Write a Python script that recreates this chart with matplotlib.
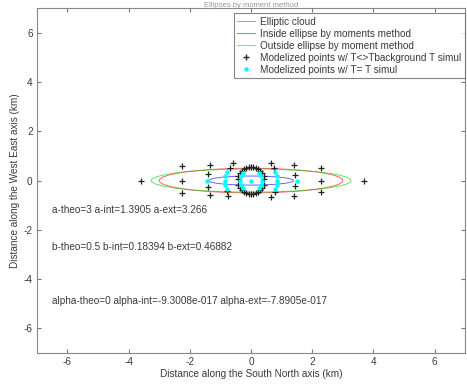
import numpy as np
import matplotlib
matplotlib.use('Agg')
import matplotlib.pyplot as plt
from matplotlib.patches import Ellipse
from matplotlib.lines import Line2D

plt.rcParams['font.family'] = ['Liberation Sans', 'DejaVu Sans']
plt.rcParams['axes.unicode_minus'] = False

# ellipse parameters (theoretical, inside and outside moment estimates)
a_theo, b_theo, alpha_theo = 3, 0.5, 0
a_int, b_int, alpha_int = 1.3905, 0.18394, -9.3008e-017
a_ext, b_ext, alpha_ext = 3.266, 0.46882, -7.8905e-017

# modelized points, T <> Tbackground
pts_bg_x = [-3.6, 3.7,
            -2.25, -2.25, -2.25, 2.3, 2.3, 2.3,
            -1.35, -1.4, -1.4, -1.35, 1.4, 1.45, 1.45, 1.4,
            -0.58, -0.68, -0.8, -0.74, 0.64, 0.76, 0.78, 0.66,
            0.0, 0.08, 0.16, 0.24, 0.31, 0.37, 0.42, 0.44,
            -0.08, -0.16, -0.24, -0.31, -0.37, -0.42, -0.44,
            0.08, 0.16, 0.24, 0.31, 0.37, 0.42,
            -0.08, -0.16, -0.24, -0.31, -0.37, -0.42, 0.0]
pts_bg_y = [0.0, 0.0,
            0.58, 0.0, -0.5, 0.5, 0.0, -0.45,
            0.65, 0.25, -0.25, -0.6, 0.62, 0.24, -0.22, -0.62,
            0.72, 0.52, -0.44, -0.64, 0.72, 0.5, -0.45, -0.66,
            0.56, 0.55, 0.52, 0.47, 0.4, 0.3, 0.18, 0.05,
            0.55, 0.52, 0.47, 0.4, 0.3, 0.18, 0.05,
            -0.55, -0.52, -0.47, -0.4, -0.3, -0.18,
            -0.55, -0.52, -0.47, -0.4, -0.3, -0.18, -0.56]

# modelized points, T = T signal
pts_sig_x = [0.0, -1.45, 1.5,
             -0.78, -0.84, -0.86, -0.84, -0.78, 0.78, 0.84, 0.86, 0.84, 0.78,
             0.36, 0.34, 0.26, -0.26, -0.34, -0.36,
             -0.34, -0.26, 0.26, 0.34]
pts_sig_y = [0.0, 0.0, 0.0,
             0.35, 0.18, 0.0, -0.18, -0.35, 0.35, 0.18, 0.0, -0.18, -0.35,
             0.0, 0.17, 0.3, 0.3, 0.17, 0.0,
             -0.17, -0.3, -0.3, -0.17]


def mfmt(v):
    # %g with a three digit exponent, like matlab's num2str
    s = '%.5g' % v
    if 'e' in s:
        m, e = s.split('e')
        s = '%se%s%03d' % (m, e[0], abs(int(e)))
    return s


fs = 7.2
txtc = '#3a3a3a'

fig = plt.figure(figsize=(4.67, 3.85), dpi=100)
ax = fig.add_axes([0.079, 0.083, 0.917, 0.896])

for a, b, alpha, col in [(a_theo, b_theo, alpha_theo, 'red'),
                         (a_int, b_int, alpha_int, 'blue'),
                         (a_ext, b_ext, alpha_ext, '#00cc00')]:
    ax.add_patch(Ellipse((0, 0), 2 * a, 2 * b, angle=np.degrees(alpha),
                         fill=False, ec=col, lw=0.7, alpha=0.6))

ax.plot(pts_bg_x, pts_bg_y, '+', color='#222222', ms=4, mew=0.9, ls='none')
ax.plot(pts_sig_x, pts_sig_y, '.', color='cyan', ms=4.5, ls='none')

ax.text(-6.5, -1.2, 'a-theo=%s a-int=%s a-ext=%s'
        % (mfmt(a_theo), mfmt(a_int), mfmt(a_ext)),
        fontsize=fs, color=txtc, va='center')
ax.text(-6.5, -2.7, 'b-theo=%s b-int=%s b-ext=%s'
        % (mfmt(b_theo), mfmt(b_int), mfmt(b_ext)),
        fontsize=fs, color=txtc, va='center')
ax.text(-6.5, -4.9, 'alpha-theo=%s alpha-int=%s alpha-ext=%s'
        % (mfmt(alpha_theo), mfmt(alpha_int), mfmt(alpha_ext)),
        fontsize=fs, color=txtc, va='center')

handles = [Line2D([], [], color='red', lw=0.7, alpha=0.5),
           Line2D([], [], color='blue', lw=0.7, alpha=0.5),
           Line2D([], [], color='#00cc00', lw=0.7, alpha=0.5),
           Line2D([], [], color='#222222', marker='+', ls='none', ms=4),
           Line2D([], [], color='cyan', marker='.', ls='none', ms=4.5)]
labels = ['Elliptic cloud', 'Inside ellipse by moments method',
          'Outside ellipse by moment method',
          'Modelized points w/ T<>Tbackground T simul',
          'Modelized points w/ T= T simul']
leg = ax.legend(handles, labels, loc='upper right', fontsize=fs,
                bbox_to_anchor=(1.0, 0.985), frameon=True, fancybox=False,
                borderpad=0.35, labelspacing=0.2, handlelength=1.8,
                handletextpad=0.5, borderaxespad=0.0)
leg.get_frame().set_edgecolor('#666666')
leg.get_frame().set_linewidth(0.8)
for t in leg.get_texts():
    t.set_color(txtc)

ax.set_xlim(-7, 7)
ax.set_ylim(-7, 7)
ax.set_xticks([-6, -4, -2, 0, 2, 4, 6])
ax.set_yticks([-6, -4, -2, 0, 2, 4, 6])
ax.tick_params(direction='in', length=3, top=True, right=True,
               labelsize=fs, colors='#777777', labelcolor=txtc, pad=3)
for s in ax.spines.values():
    s.set_color('#888888')
    s.set_linewidth(0.8)

ax.set_xlabel('Distance along the South North axis (km)', fontsize=fs,
              color=txtc, labelpad=1)
ax.set_ylabel('Distance along the West East axis (km)', fontsize=fs,
              color=txtc, labelpad=3)
ax.set_title('Ellipses by moment method', fontsize=5.5, color='#999999',
             y=1.0, pad=0.5)

fig.savefig('out.png', dpi=100)
